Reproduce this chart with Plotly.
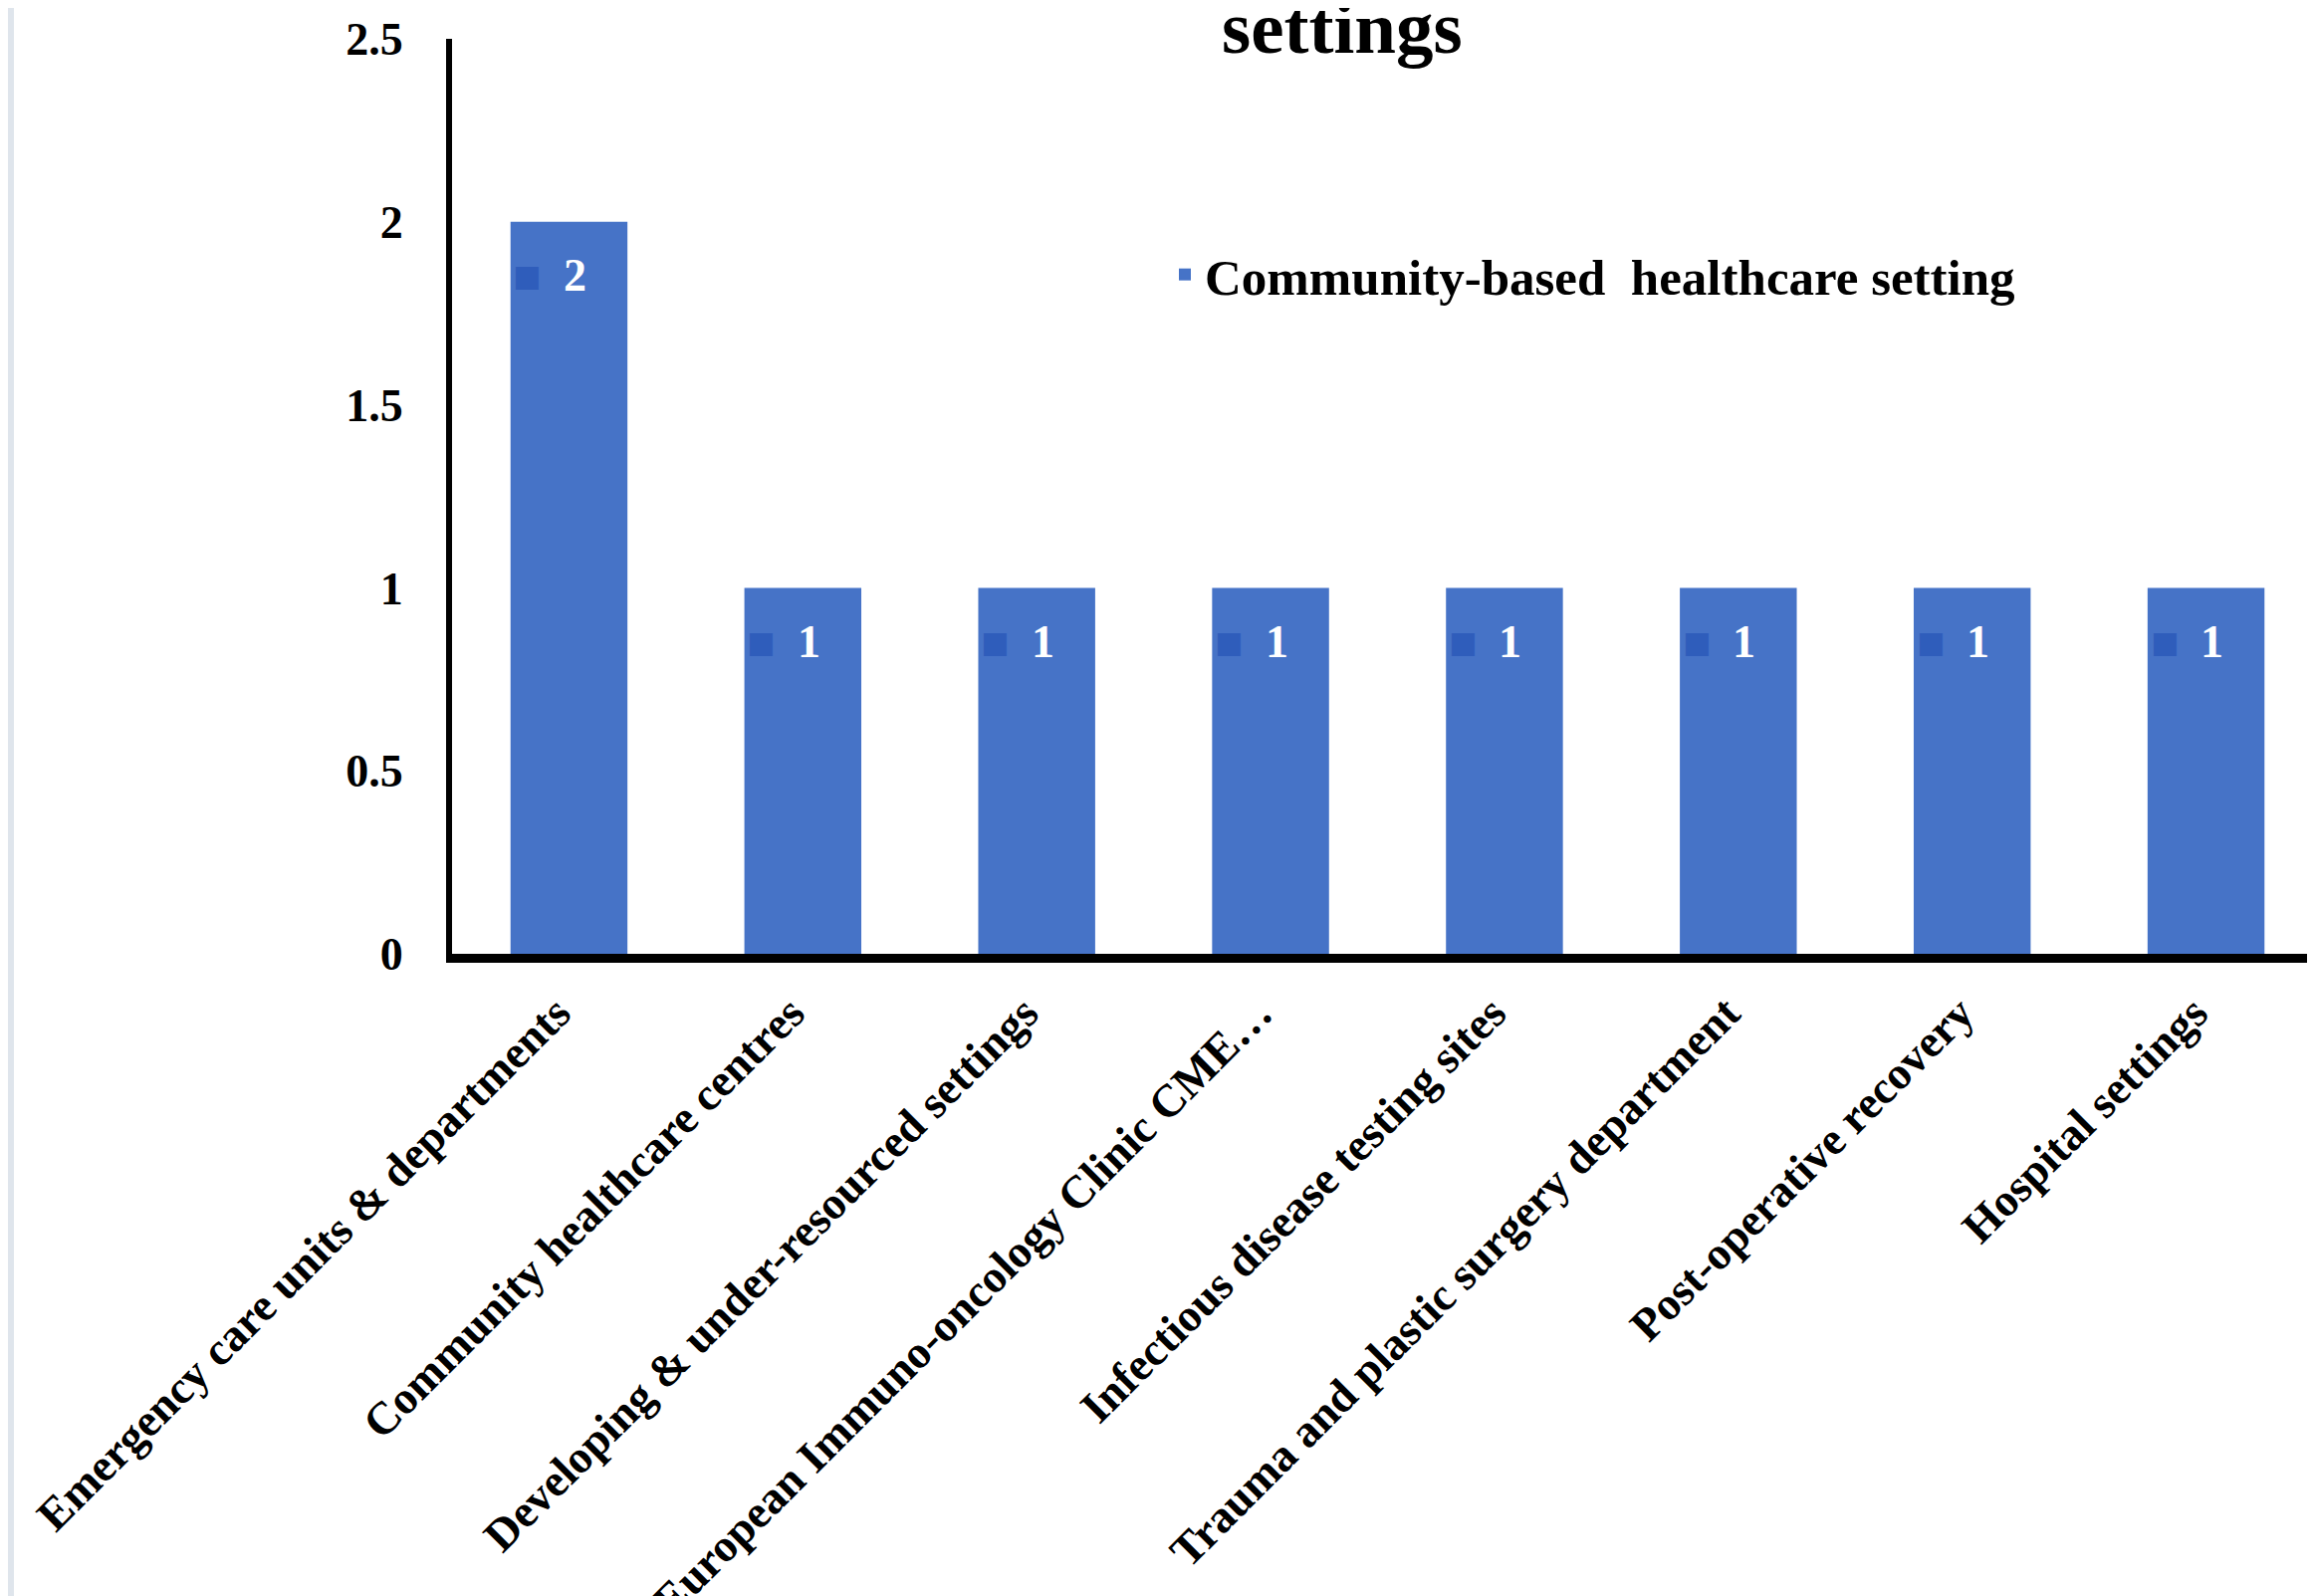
import plotly.graph_objects as go

categories = [
    "Emergency care units & departments",
    "Community healthcare centres",
    "Developing & under-resourced settings",
    "European Immuno-oncology Clinic CME…",
    "Infectious disease testing sites",
    "Trauma and plastic surgery department",
    "Post-operative recovery",
    "Hospital settings",
]
values = [2, 1, 1, 1, 1, 1, 1, 1]
series_name = "Community-based  healthcare setting"
title_text = "settings"
y_ticks = [0, 0.5, 1, 1.5, 2, 2.5]

W, H = 2325, 1603
L, R, T, B = 446, 0, 31, 653
FONT = "Liberation Serif"
BAR = "#4673c7"
KEY = "#2f5dbb"
PW, PH = W - L - R, H - T - B

fig = go.Figure()
fig.add_trace(go.Bar(
    x=categories, y=values, name=series_name,
    marker=dict(color=BAR, line=dict(width=0)),
    showlegend=True,
))

annotations = []
for c, v in zip(categories, values):
    annotations.append(dict(
        x=c, y=v, xref="x", yref="y", text="■", showarrow=False,
        font=dict(family="DejaVu Sans", size=30, color=KEY),
        xshift=-42, yshift=-54, xanchor="center", yanchor="middle"))
    annotations.append(dict(
        x=c, y=v, xref="x", yref="y", text=f"<b>{v}</b>", showarrow=False,
        font=dict(family=FONT, size=46, color="white"),
        xshift=6, yshift=-54, xanchor="center", yanchor="middle"))

annotations.append(dict(
    x=(1340 - L) / PW, y=1 + (T - 19) / PH,
    xref="paper", yref="paper", text=f"<b>{title_text}</b>", showarrow=False,
    font=dict(family=FONT, size=75, color="black"),
    xanchor="center", yanchor="middle"))

fig.update_layout(
    width=W, height=H,
    margin=dict(l=L, r=R, t=T, b=B, autoexpand=False),
    paper_bgcolor="white", plot_bgcolor="white",
    bargap=0.5,
    font=dict(family=FONT, size=46, color="black"),
    annotations=annotations,
    legend=dict(
        x=(1162 - L) / PW, y=(H - B - 228) / PH,
        xanchor="left", yanchor="top",
        font=dict(family=FONT, size=51, color="black", weight="bold"),
        bgcolor="rgba(0,0,0,0)", itemwidth=30,
    ),
    shapes=[dict(type="line", xref="paper", yref="paper",
                 x0=-(L - 3) / PW, x1=-(L - 3) / PW,
                 y0=-B / PH, y1=1 + T / PH,
                 line=dict(color="#dfe5ec", width=6))],
)
fig.update_yaxes(
    range=[0, 2.5], tickvals=y_ticks, ticktext=[f"{t:g}" for t in y_ticks],
    showgrid=False, zeroline=False,
    showline=True, linecolor="black", linewidth=6,
    ticks="", ticklabelstandoff=34,
    tickfont=dict(family=FONT, size=46, color="black", weight="bold"),
)
fig.update_xaxes(
    showgrid=False, showline=True, linecolor="black", linewidth=9,
    ticks="", tickangle=-45, ticklabelstandoff=5, ticklabelshift=-12,
    tickfont=dict(family=FONT, size=46, color="black", weight="bold"),
)

fig.write_html("out.html")
